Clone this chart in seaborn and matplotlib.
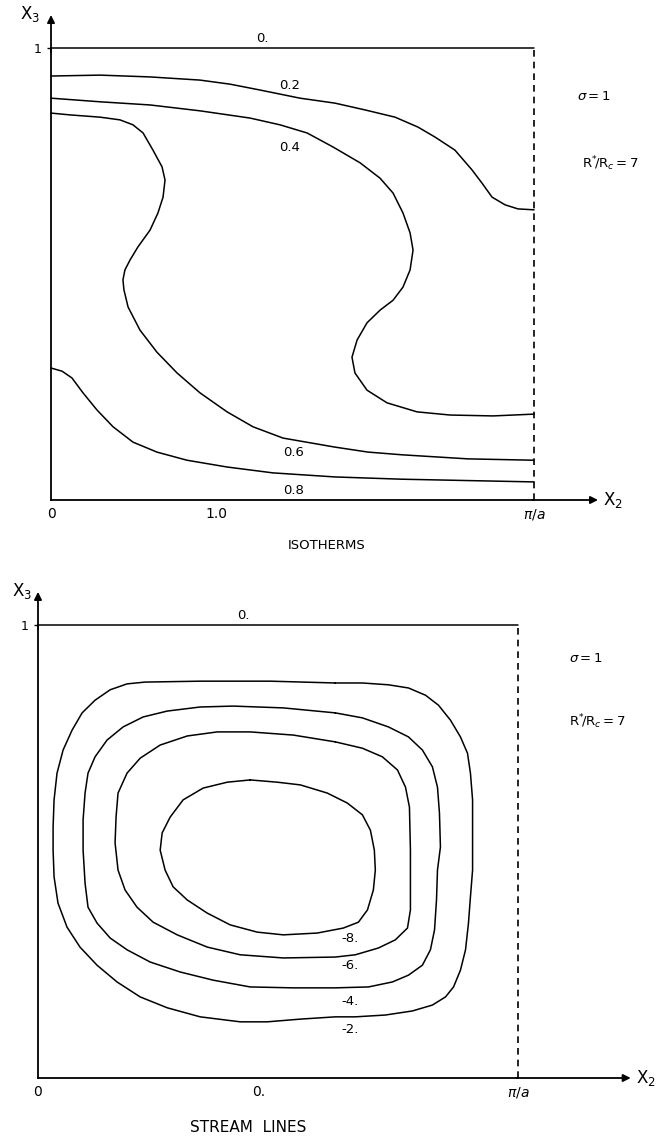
import numpy as np
import pandas as pd
import matplotlib
matplotlib.use('Agg')
import matplotlib.pyplot as plt
import seaborn as sns

sns.set_style('white', {'text.color': 'black', 'xtick.color': 'black',
                        'ytick.color': 'black', 'axes.labelcolor': 'black'})
plt.rcParams['font.family'] = ['DejaVu Sans']
plt.rcParams['mathtext.fontset'] = 'dejavusans'

PI_A = 2.927  # x2 position of pi/a

# Isotherms (x2, x3)
iso_levels = ['0.', '0.2', '0.4', '0.6', '0.8']
iso_0_x = [0.0, PI_A]
iso_0_y = [1.0, 1.0]
iso_02_x = [0, 0.297, 0.600, 0.903, 1.085, 1.267, 1.509, 1.721, 1.903, 2.085, 2.224, 2.327,
            2.448, 2.552, 2.612, 2.673, 2.752, 2.830, 2.927]
iso_02_y = [0.938, 0.940, 0.936, 0.929, 0.920, 0.907, 0.889, 0.878, 0.863, 0.847, 0.825, 0.803,
            0.774, 0.730, 0.701, 0.670, 0.653, 0.644, 0.642]
iso_04_x = [0, 0.297, 0.600, 0.903, 1.206, 1.388, 1.552, 1.709, 1.873, 1.994, 2.073, 2.133,
            2.176, 2.194, 2.176, 2.133, 2.073, 1.994, 1.915, 1.855, 1.824, 1.842, 1.915, 2.036,
            2.218, 2.418, 2.679, 2.927]
iso_04_y = [0.889, 0.881, 0.874, 0.861, 0.845, 0.830, 0.812, 0.781, 0.746, 0.712, 0.679, 0.635,
            0.591, 0.553, 0.509, 0.471, 0.442, 0.420, 0.392, 0.354, 0.316, 0.281, 0.243, 0.215,
            0.195, 0.188, 0.186, 0.190]
iso_06_x = [0, 0.115, 0.297, 0.418, 0.497, 0.558, 0.618, 0.673, 0.691, 0.679, 0.648, 0.600,
            0.527, 0.479, 0.448, 0.436, 0.442, 0.467, 0.539, 0.642, 0.764, 0.903, 1.067, 1.224,
            1.406, 1.721, 1.921, 2.127, 2.527, 2.927]
iso_06_y = [0.856, 0.852, 0.847, 0.841, 0.830, 0.812, 0.774, 0.737, 0.708, 0.670, 0.635, 0.597,
            0.560, 0.531, 0.509, 0.487, 0.465, 0.427, 0.376, 0.327, 0.281, 0.237, 0.195, 0.162,
            0.137, 0.117, 0.106, 0.100, 0.091, 0.088]
iso_08_x = [0, 0.067, 0.127, 0.194, 0.279, 0.376, 0.497, 0.642, 0.824, 1.067, 1.345, 1.721,
            2.127, 2.927]
iso_08_y = [0.292, 0.285, 0.270, 0.237, 0.199, 0.162, 0.128, 0.106, 0.088, 0.073, 0.060, 0.051,
            0.046, 0.040]
iso_label_x = [1.279, 1.448, 1.448, 1.467, 1.467]
iso_label_y = [1.022, 0.918, 0.779, 0.104, 0.022]

# Stream lines (closed curves)
psi_levels = ['0.', '-2.', '-4.', '-6.', '-8.']
psi_2_x = [1.813, 1.416, 0.989, 0.653, 0.543, 0.440, 0.348, 0.269, 0.208, 0.153, 0.116, 0.098,
           0.092, 0.092, 0.098, 0.122, 0.177, 0.256, 0.360, 0.482, 0.623, 0.788, 0.989, 1.233,
           1.398, 1.600, 1.813, 1.935, 2.118, 2.283, 2.405, 2.485, 2.534, 2.576, 2.607, 2.625,
           2.637, 2.650, 2.650, 2.650, 2.637, 2.619, 2.576, 2.515, 2.442, 2.363, 2.259, 2.137,
           1.978, 1.813]
psi_2_y = [0.872, 0.876, 0.876, 0.874, 0.870, 0.857, 0.834, 0.806, 0.768, 0.724, 0.673, 0.614,
           0.554, 0.503, 0.444, 0.386, 0.333, 0.289, 0.249, 0.212, 0.179, 0.155, 0.135, 0.124,
           0.124, 0.130, 0.135, 0.135, 0.139, 0.148, 0.161, 0.179, 0.201, 0.238, 0.283, 0.342,
           0.400, 0.459, 0.519, 0.614, 0.673, 0.717, 0.753, 0.790, 0.823, 0.845, 0.861, 0.868,
           0.872, 0.872]
psi_4_x = [1.813, 1.496, 1.190, 0.989, 0.788, 0.641, 0.519, 0.421, 0.348, 0.305, 0.287, 0.275,
           0.275, 0.287, 0.305, 0.360, 0.440, 0.543, 0.684, 0.867, 1.068, 1.294, 1.557, 1.813,
           2.015, 2.161, 2.259, 2.344, 2.393, 2.418, 2.430, 2.436, 2.454, 2.448, 2.436, 2.405,
           2.344, 2.259, 2.137, 1.978, 1.813]
psi_4_y = [0.806, 0.817, 0.821, 0.819, 0.810, 0.797, 0.775, 0.746, 0.709, 0.673, 0.629, 0.570,
           0.503, 0.430, 0.377, 0.342, 0.309, 0.283, 0.256, 0.234, 0.216, 0.201, 0.199, 0.199,
           0.201, 0.212, 0.227, 0.249, 0.283, 0.327, 0.393, 0.459, 0.510, 0.585, 0.642, 0.687,
           0.724, 0.753, 0.775, 0.795, 0.806]
psi_6_x = [1.813, 1.557, 1.294, 1.093, 0.910, 0.745, 0.623, 0.543, 0.488, 0.476, 0.470, 0.488,
           0.531, 0.604, 0.702, 0.849, 1.032, 1.233, 1.496, 1.813, 1.935, 2.076, 2.179, 2.253,
           2.271, 2.271, 2.271, 2.265, 2.241, 2.192, 2.100, 1.978, 1.813]
psi_6_y = [0.742, 0.757, 0.764, 0.764, 0.755, 0.735, 0.706, 0.673, 0.629, 0.576, 0.519, 0.459,
           0.415, 0.377, 0.344, 0.316, 0.289, 0.272, 0.265, 0.267, 0.272, 0.287, 0.305, 0.331,
           0.371, 0.430, 0.503, 0.598, 0.642, 0.680, 0.709, 0.728, 0.742]
psi_8_x = [1.294, 1.459, 1.600, 1.764, 1.886, 1.978, 2.027, 2.051, 2.057, 2.045, 2.009, 1.954,
           1.862, 1.703, 1.496, 1.337, 1.172, 1.032, 0.910, 0.824, 0.775, 0.745, 0.757, 0.806,
           0.885, 1.007, 1.154, 1.294]
psi_8_y = [0.658, 0.653, 0.647, 0.629, 0.607, 0.581, 0.547, 0.503, 0.459, 0.415, 0.371, 0.344,
           0.331, 0.320, 0.316, 0.322, 0.338, 0.364, 0.393, 0.422, 0.459, 0.503, 0.541, 0.576,
           0.614, 0.640, 0.653, 0.658]
psi_label_x = [1.252, 1.905, 1.905, 1.905, 1.905]
psi_label_y = [1.022, 0.106, 0.168, 0.249, 0.309]

W, H = 669, 1136
fig = plt.figure(figsize=(W / 100, H / 100), dpi=100)

LW = 1.1


def setup_axes(ax, x_arrow, x_ticks, x_ticklabels):
    ax.set_xlim(0, PI_A)
    ax.set_ylim(0, 1)
    for s in ['top', 'right']:
        ax.spines[s].set_visible(False)
    for s in ['left', 'bottom']:
        ax.spines[s].set_linewidth(1.3)
        ax.spines[s].set_color('black')
    ax.set_xticks(x_ticks)
    ax.set_xticklabels(x_ticklabels)
    ax.set_yticks([1])
    ax.set_yticklabels(['1'])
    ax.tick_params(axis='x', length=0, pad=5, labelsize=10)
    ax.tick_params(axis='y', length=3, width=1, pad=4, labelsize=9, left=True)
    ax.axvline(PI_A, color='black', lw=1.2, ls=(0, (4, 3)), clip_on=False)
    # axis arrows
    ax.annotate('', xy=(x_arrow, 0), xytext=(PI_A - 0.01, 0), annotation_clip=False,
                arrowprops=dict(arrowstyle='-|>', lw=1.3, color='black', mutation_scale=11,
                                shrinkA=0, shrinkB=0))
    ax.annotate('', xy=(0, 1.073), xytext=(0, 0.99), annotation_clip=False,
                arrowprops=dict(arrowstyle='-|>', lw=1.3, color='black', mutation_scale=11,
                                shrinkA=0, shrinkB=0))
    ax.text(x_arrow + 0.03, 0, r'$\mathrm{X}_2$', fontsize=12, ha='left', va='center')
    ax.set_xlabel('')
    ax.set_ylabel('')


def draw(ax, xs, ys):
    df = pd.DataFrame({'x2': xs, 'x3': ys})
    sns.lineplot(data=df, x='x2', y='x3', sort=False, estimator=None, color='black',
                 lw=LW, ax=ax, clip_on=False, solid_joinstyle='round')


# ---- Isotherms ----
ax1 = fig.add_axes([51 / W, 1 - 500 / H, (534 - 51) / W, (500 - 48) / H])
iso_curves = [(iso_0_x, iso_0_y), (iso_02_x, iso_02_y), (iso_04_x, iso_04_y),
              (iso_06_x, iso_06_y), (iso_08_x, iso_08_y)]
for xs, ys in iso_curves:
    draw(ax1, xs, ys)
for lab, lx, ly in zip(iso_levels, iso_label_x, iso_label_y):
    ax1.text(lx, ly, lab, fontsize=9.5, ha='center', va='center')
setup_axes(ax1, (598 - 51) / 165, [0, 1.0, PI_A], ['0', '1.0', r'$\pi/a$'])
ax1.text(-0.13, 1.075, r'$\mathrm{X}_3$', fontsize=12, ha='center', va='center')
ax1.text(1.67, -0.1, 'ISOTHERMS', fontsize=9.5, ha='center', va='center')
ax1.text(3.19, 0.892, r'$\sigma = 1$', fontsize=9.5, ha='left', va='center')
ax1.text(3.22, 0.745, r'$\mathrm{R}^{*}\!/\mathrm{R}_c = 7$', fontsize=9.5, ha='left', va='center')

# ---- Stream lines ----
ax2 = fig.add_axes([38 / W, 1 - 1078 / H, (518 - 38) / W, (1078 - 625) / H])
psi_curves = [(iso_0_x, iso_0_y), (psi_2_x, psi_2_y), (psi_4_x, psi_4_y),
              (psi_6_x, psi_6_y), (psi_8_x, psi_8_y)]
for xs, ys in psi_curves:
    draw(ax2, xs, ys)
for lab, lx, ly in zip(psi_levels, psi_label_x, psi_label_y):
    ax2.text(lx, ly, lab, fontsize=9.5, ha='center', va='center')
setup_axes(ax2, (630 - 38) / 163.8, [0, 1.343, PI_A], ['0', '0.', r'$\pi/a$'])
ax2.text(-0.10, 1.075, r'$\mathrm{X}_3$', fontsize=12, ha='center', va='center')
ax2.text(1.282, -0.11, 'STREAM  LINES', fontsize=11, ha='center', va='center')
ax2.text(3.24, 0.927, r'$\sigma = 1$', fontsize=9.5, ha='left', va='center')
ax2.text(3.24, 0.786, r'$\mathrm{R}^{*}\!/\mathrm{R}_c = 7$', fontsize=9.5, ha='left', va='center')

fig.savefig('out.png', dpi=100)
